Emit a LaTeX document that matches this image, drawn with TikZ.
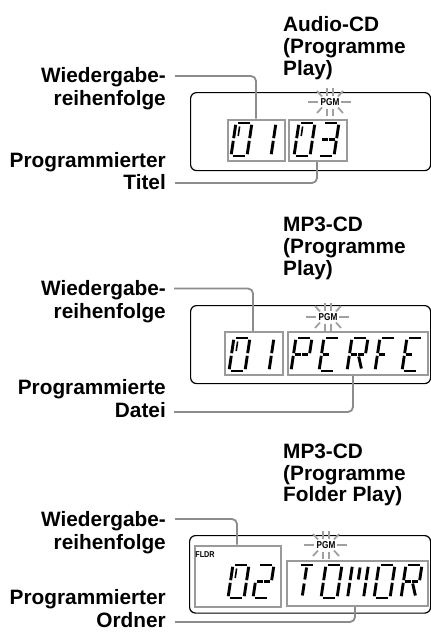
\documentclass[tikz,border=0pt]{standalone}
\usepackage{fontspec}
\setmainfont{Liberation Sans}
\definecolor{conngray}{HTML}{8C8C8C}
\definecolor{boxgray}{HTML}{9A9A9A}
\definecolor{raygray}{HTML}{A0A0A0}
\tikzset{
 lab/.style={font=\fontsize{20.8}{22}\selectfont\bfseries, inner sep=0pt, anchor=base east},
 ttl/.style={font=\fontsize{20.8}{22}\selectfont\bfseries, inner sep=0pt, anchor=base west},
 conn/.style={draw=conngray, line width=1.8pt, rounded corners=5pt},
 lcdframe/.style={draw=black, line width=1.2pt, rounded corners=6pt, anchor=north west, inner sep=0pt},
 digbox/.style={draw=boxgray, line width=2.2pt, anchor=north west, inner sep=0pt},
 segline/.style={line width=2.9pt, line cap=butt},
 ray/.style={draw=raygray, line width=1.8pt},
 pgmtext/.style={font=\fontsize{10}{10}\selectfont\bfseries, inner sep=0pt},
}
\newcommand\lsA{\draw[segline] (1.8,33)--(14.2,33);}
\newcommand\lsB{\draw[segline] (16,31.2)--(16,17.8);}
\newcommand\lsC{\draw[segline] (16,15.2)--(16,1.8);}
\newcommand\lsD{\draw[segline] (1.8,0)--(14.2,0);}
\newcommand\lsE{\draw[segline] (0,15.2)--(0,1.8);}
\newcommand\lsF{\draw[segline] (0,31.2)--(0,17.8);}
\newcommand\lsG{\draw[segline] (1.8,16.5)--(7.2,16.5);}
\newcommand\lsH{\draw[segline] (8.8,16.5)--(14.2,16.5);}
\newcommand\lsI{\draw[segline] (8,30.5)--(8,18.5);}
\newcommand\lsJ{\draw[segline] (8,14.5)--(8,2.5);}
\newcommand\lsK{\draw[segline] (9.5,14.5)--(14,2.5);}
\newcommand\lsZ{\draw[line width=1.6pt] (4.2,29.5)--(4.2,20);}
\newcommand\lcdch[3]{\begin{scope}[shift={(#1,#2)},yscale=-1,xslant=-0.15]\foreach \s in {#3}{\csname ls\s\endcsname}\end{scope}}
\newcommand\pgmrays{%
 \draw[ray] (-22,0)--(-12,0); \draw[ray] (11,0)--(21,0);
 \draw[ray] (-3,-14)--(-3,-6.5); \draw[ray] (3,-14)--(3,-6.5);
 \draw[ray] (-3,6.5)--(-3,14); \draw[ray] (3,6.5)--(3,14);
 \draw[ray] (-13,-11)--(-8,-5.5); \draw[ray] (13,-11)--(8,-5.5);
 \draw[ray] (-13,11)--(-8,5.5); \draw[ray] (13,11)--(8,5.5);}
\begin{document}
\begin{tikzpicture}[x=1pt,y=-1pt]
\useasboundingbox (0,0) rectangle (431,632);
% ---------- Panel 1 ----------
\node[ttl] (t1a) at (283,31.7) {Audio-CD};
\node[ttl] (t1b) at (283,53.3) {(Programme};
\node[ttl] (t1c) at (283,75) {Play)};
\node[lab] (w1a) at (166,82) {Wiedergabe-};
\node[lab] (w1b) at (166,105) {reihenfolge};
\node[lab] (p1a) at (166,167) {Programmierter};
\node[lab] (p1b) at (166,189) {Titel};
\node[lcdframe, minimum width=240pt, minimum height=78pt] (f1) at (190,92) {};
\node[digbox, minimum width=57pt, minimum height=41.5pt] (b11) at (226.5,118.5) {};
\node[digbox, minimum width=57.5pt, minimum height=41.5pt] (b12) at (288,118.5) {};
\lcdch{231}{156}{A,B,C,D,E,F,Z}
\lcdch{255}{156}{B,C}
\lcdch{294}{156}{A,B,C,D,E,F,Z}
\lcdch{318}{156}{A,B,C,D,G,H}
\node[pgmtext] (g1) at (330,102) {\scalebox{0.82}[1]{PGM}};
\begin{scope}[shift={(g1.center)}]\pgmrays\end{scope}
\coordinate (s1a) at (175,76);
\coordinate (s1b) at (175,183);
\draw[conn] (s1a) -| (256,0 |- b11.north);
\draw[conn] (s1b) -| (317,0 |- b12.south);
% ---------- Panel 2 ----------
\node[ttl] (t2a) at (283,231.7) {MP3-CD};
\node[ttl] (t2b) at (283,253.3) {(Programme};
\node[ttl] (t2c) at (283,275) {Play)};
\node[lab] (w2a) at (166,295) {Wiedergabe-};
\node[lab] (w2b) at (166,318) {reihenfolge};
\node[lab] (p2a) at (166,394) {Programmierte};
\node[lab] (p2b) at (166,417) {Datei};
\node[lcdframe, minimum width=240pt, minimum height=78pt] (f2) at (190,305) {};
\node[digbox, minimum width=58pt, minimum height=43pt] (b21) at (224,331) {};
\node[digbox, minimum width=140pt, minimum height=43pt] (b22) at (287,331) {};
\lcdch{229}{371}{A,B,C,D,E,F,Z}
\lcdch{253}{371}{B,C}
\lcdch{291}{371}{A,B,F,E,G,H}
\lcdch{319}{371}{A,F,E,D,G}
\lcdch{347}{371}{A,B,F,E,G,H,K}
\lcdch{375}{371}{A,F,E,G}
\lcdch{402}{371}{A,F,E,D,G}
\node[pgmtext] (g2) at (328,317) {\scalebox{0.82}[1]{PGM}};
\begin{scope}[shift={(g2.center)}]\pgmrays\end{scope}
\coordinate (s2a) at (174,288.5);
\coordinate (s2b) at (174,412);
\draw[conn] (s2a) -| (253,0 |- b21.north);
\draw[conn] (s2b) -| (353,0 |- b22.south);
% ---------- Panel 3 ----------
\node[ttl] (t3a) at (283,458.3) {MP3-CD};
\node[ttl] (t3b) at (283,480) {(Programme};
\node[ttl] (t3c) at (283,501.7) {Folder Play)};
\node[lab] (w3a) at (166,526) {Wiedergabe-};
\node[lab] (w3b) at (166,549) {reihenfolge};
\node[lab] (p3a) at (166,604) {Programmierter};
\node[lab] (p3b) at (166,627) {Ordner};
\node[lcdframe, minimum width=241pt, minimum height=77.5pt] (f3) at (189,535) {};
\node[digbox, minimum width=86pt, minimum height=61pt] (b31) at (194,544.5) {};
\node[digbox, minimum width=141pt, minimum height=45pt] (b32) at (285.5,560) {};
\node[font=\fontsize{8.5}{8.5}\selectfont\bfseries, inner sep=0pt] (fl) at (205,555) {\scalebox{0.85}[1]{FLDR}};
\lcdch{228}{598}{A,B,C,D,E,F,Z}
\lcdch{253}{598}{A,B,G,H,E,D}
\lcdch{294}{598}{A,I,J}
\lcdch{321}{598}{A,B,C,D,E,F}
\lcdch{347.5}{598}{F,E,B,C,I}
\lcdch{374}{598}{A,B,C,D,E,F}
\lcdch{401}{598}{A,B,F,E,G,H,K}
\node[pgmtext] (g3) at (326,545) {\scalebox{0.82}[1]{PGM}};
\begin{scope}[shift={(g3.center)}]\pgmrays\end{scope}
\coordinate (s3a) at (175,519);
\coordinate (s3b) at (175,622);
\draw[conn] (s3a) -| (237,0 |- b31.north);
\draw[conn] (s3b) -| (355,0 |- b32.south);
\end{tikzpicture}
\end{document}
